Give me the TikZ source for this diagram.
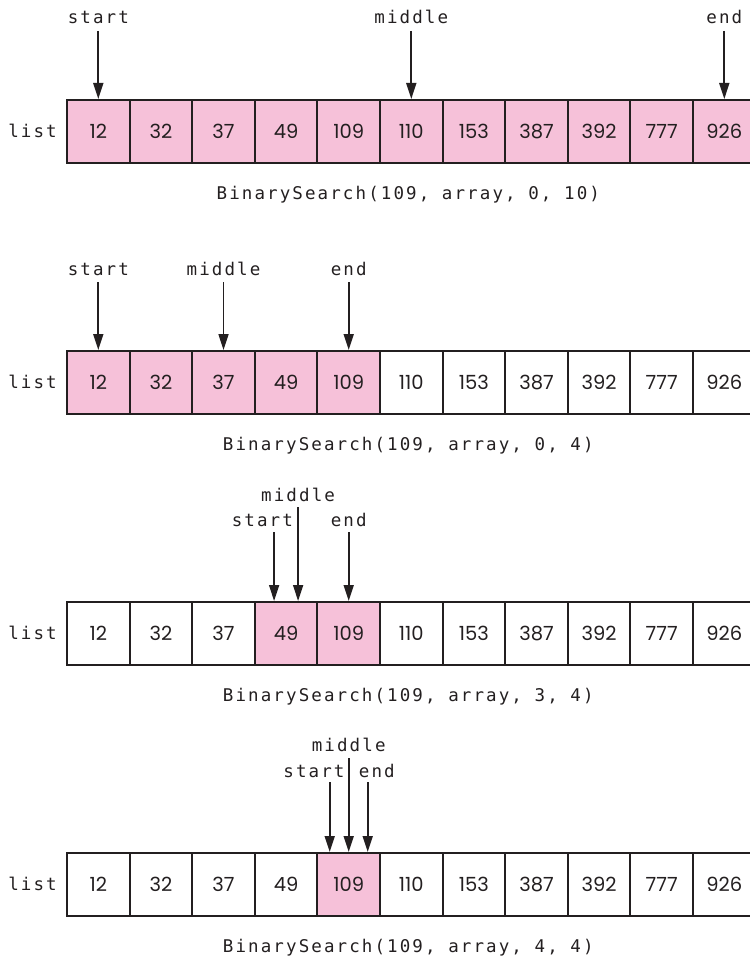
\documentclass[tikz,border=0pt]{standalone}
\usepackage{fontspec}
\setmainfont{Poppins}
\newfontfamily\monof{DejaVu Sans Mono}[LetterSpace=12]
\usetikzlibrary{arrows.meta,calc}
\definecolor{pinkc}{HTML}{F6C1D9}
\definecolor{ink}{HTML}{231F20}
\tikzset{
  cell/.style={draw=ink, line width=2pt, minimum width=62.6pt, minimum height=63pt,
    inner sep=0pt, font=\fontsize{19.5}{19.5}\selectfont, text=ink},
  ptr/.style={draw=ink, line width=1.7pt, -{Triangle[length=16pt,width=10pt]}},
  mono/.style={font=\monof\fontsize{17.5}{17.5}\selectfont, text=ink, inner sep=0pt},
}
\begin{document}
\begin{tikzpicture}[x=1pt,y=-1pt]
\useasboundingbox (0,0) rectangle (749,960);
\foreach \r/\lo/\hi/\cap in {1/0/10/{0, 10}, 2/0/4/{0, 4}, 3/3/4/{3, 4}, 4/4/4/{4, 4}}{
  \pgfmathsetmacro\toprow{100+251*(\r-1)}
  \foreach \v [count=\i from 0] in {12,32,37,49,109,110,153,387,392,777,926}{
    \pgfmathtruncatemacro\hl{((\i>=\lo)&&(\i<=\hi))?1:0}
    \ifnum\hl=1 \def\fc{pinkc}\else\def\fc{white}\fi
    \node[cell, fill=\fc] (r\r c\i) at ({98.3+62.6*\i}, {\toprow+31.5}) {\v};
  }
  \node[mono, anchor=base east] (list\r) at ($(r\r c0.west)+(-9,6)$) {list};
  \node[mono, anchor=base] (cap\r) at ($(r\r c5.south)+(-3,35)$) {BinarySearch(109,\ array,\ \cap)};
}
% row 1
\coordinate (a1s) at ($(r1c0.north)+(0,-68)$);
\coordinate (a1m) at ($(r1c5.north)+(0,-68)$);
\coordinate (a1e) at ($(r1c10.north)+(0,-68)$);
\draw[ptr] (a1s) -- (r1c0.north);
\draw[ptr] (a1m) -- (r1c5.north);
\draw[ptr] (a1e) -- (r1c10.north);
\node[mono, anchor=base] (l1s) at ($(r1c0.north)+(0,-75)$) {start};
\node[mono, anchor=base] (l1m) at ($(r1c5.north)+(0,-75)$) {middle};
\node[mono, anchor=base] (l1e) at ($(r1c10.north)+(0,-75)$) {end};
% row 2
\coordinate (a2s) at ($(r2c0.north)+(0,-68)$);
\coordinate (a2m) at ($(r2c2.north)+(0,-68)$);
\coordinate (a2e) at ($(r2c4.north)+(0,-68)$);
\draw[ptr] (a2s) -- (r2c0.north);
\draw[ptr] (a2m) -- (r2c2.north);
\draw[ptr] (a2e) -- (r2c4.north);
\node[mono, anchor=base] (l2s) at ($(r2c0.north)+(0,-75)$) {start};
\node[mono, anchor=base] (l2m) at ($(r2c2.north)+(0,-75)$) {middle};
\node[mono, anchor=base] (l2e) at ($(r2c4.north)+(0,-75)$) {end};
% row 3
\coordinate (a3s) at ($(r3c3.north)+(-12,-69)$);
\coordinate (t3s) at ($(r3c3.north)+(-12,0)$);
\coordinate (a3m) at ($(r3c3.north)+(12,-94)$);
\coordinate (t3m) at ($(r3c3.north)+(12,0)$);
\coordinate (a3e) at ($(r3c4.north)+(0,-69)$);
\draw[ptr] (a3s) -- (t3s);
\draw[ptr] (a3m) -- (t3m);
\draw[ptr] (a3e) -- (r3c4.north);
\node[mono, anchor=base east] (l3s) at ($(t3m)+(-5,-75)$) {start};
\node[mono, anchor=base] (l3m) at ($(t3m)+(0,-100)$) {middle};
\node[mono, anchor=base] (l3e) at ($(r3c4.north)+(0,-75)$) {end};
% row 4
\coordinate (a4s) at ($(r4c4.north)+(-19,-70)$);
\coordinate (t4s) at ($(r4c4.north)+(-19,0)$);
\coordinate (a4m) at ($(r4c4.north)+(0,-94)$);
\coordinate (a4e) at ($(r4c4.north)+(19,-70)$);
\coordinate (t4e) at ($(r4c4.north)+(19,0)$);
\draw[ptr] (a4s) -- (t4s);
\draw[ptr] (a4m) -- (r4c4.north);
\draw[ptr] (a4e) -- (t4e);
\node[mono, anchor=base east] (l4s) at ($(r4c4.north)+(-4,-75)$) {start};
\node[mono, anchor=base] (l4m) at ($(r4c4.north)+(0,-101)$) {middle};
\node[mono, anchor=base west] (l4e) at ($(r4c4.north)+(10,-75)$) {end};
\end{tikzpicture}
\end{document}
